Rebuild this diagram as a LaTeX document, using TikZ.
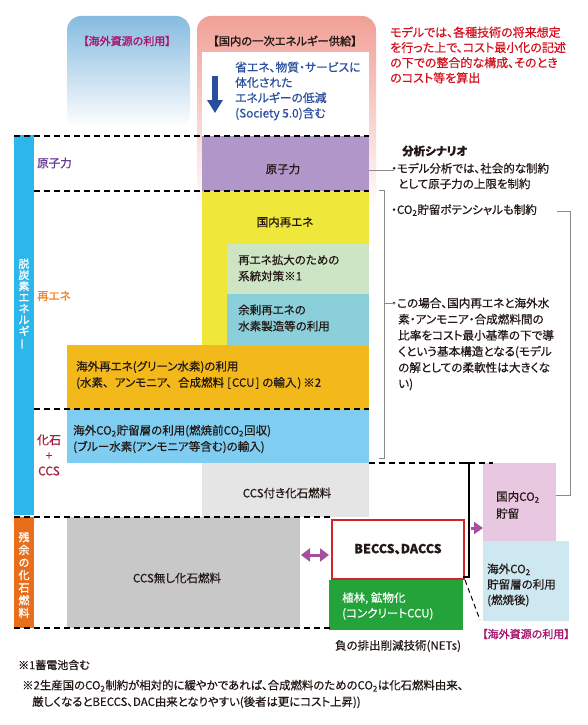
\documentclass[tikz,border=0pt]{standalone}
\usepackage{fontspec}
\setmainfont[RawFeature=+palt, FakeBold=0.5]{Noto Sans CJK JP}
\newfontfamily\medfont[RawFeature=+palt, FakeBold=1.4]{Noto Sans CJK JP}
\usetikzlibrary{arrows.meta}
\definecolor{gblue}{HTML}{86BBE0}
\definecolor{gpink}{HTML}{F1A097}
\definecolor{barblue}{HTML}{2CB6EA}
\definecolor{barorange}{HTML}{E86E1C}
\definecolor{cpurple}{HTML}{B196C9}
\definecolor{cyellow}{HTML}{EFE73A}
\definecolor{clgreen}{HTML}{CDE5C5}
\definecolor{cteal}{HTML}{8ACFD9}
\definecolor{corange}{HTML}{F3B91B}
\definecolor{clblue}{HTML}{7FCDF1}
\definecolor{clgray}{HTML}{E5E5E5}
\definecolor{cgray}{HTML}{C8C8C9}
\definecolor{cpink}{HTML}{E8C7E1}
\definecolor{ccyan}{HTML}{CDE8F1}
\definecolor{cgreen}{HTML}{23A33A}
\definecolor{cred}{HTML}{D3242A}
\definecolor{tmag}{HTML}{A8176E}
\definecolor{tred}{HTML}{D4121F}
\definecolor{tpurple}{HTML}{6A3D96}
\definecolor{torange}{HTML}{F0862A}
\definecolor{tdred}{HTML}{A8203C}
\definecolor{tblue}{HTML}{2A4E9E}
\definecolor{amag}{HTML}{A5509F}
\definecolor{cline}{HTML}{8A8A8A}
\definecolor{ttext}{HTML}{231815}
\tikzset{
  box/.style={draw=none, inner sep=0pt, anchor=north west, text=ttext},
  t/.style={inner sep=0pt, align=left, text=ttext, font=\fontsize{11.5}{16.2}\selectfont},
  tc/.style={inner sep=0pt, align=center, text=ttext, font=\fontsize{11.5}{16.2}\selectfont},
  dline/.style={line width=1.1pt, dash pattern=on 6pt off 4pt},
  conn/.style={draw=cline, line width=0.9pt},
  vtext/.style={inner sep=0pt, align=center, text=white}
}
\newcommand{\COt}{CO\textsubscript{2}}
\begin{document}
\begin{tikzpicture}[x=1pt,y=-1pt]
\useasboundingbox (0,0) rectangle (587,725);
\fill[white] (0,0) rectangle (587,725);

% gradient headers
\shade[top color=gblue, bottom color=white, rounded corners=14pt] (67,16) rectangle (190,128);
\shade[top color=gpink, bottom color=white, rounded corners=14pt] (197,16) rectangle (376,210);
\node[box, fill=white, minimum width=167, minimum height=84] (wbox) at (202,52) {};
\node[tc, text=tmag, font=\medfont\fontsize{11}{14}\selectfont] (ovt) at (127,41) {【海外資源の利用】};
\node[tc, font=\medfont\fontsize{11.3}{14}\selectfont] (domt) at (285,41) {【国内の一次エネルギー供給】};
\coordinate (arT) at (215,76);
\coordinate (arB) at (215,113);
\draw[tblue, line width=6pt, -{Triangle[width=15pt,length=13pt]}] (arT) -- (arB);
\node[t, text=tblue, anchor=west, font=\fontsize{11.8}{15.3}\selectfont] (savetxt) at (235,91) {省エネ、物質・サービスに\\体化された\\エネルギーの低減\\(Society 5.0)含む};

% red note
\node[t, text=tred, anchor=west, font=\fontsize{12}{15.2}\selectfont] (rednote) at (390,55) {モデルでは、各種技術の将来想定\\を行った上で、コスト最小化の記述\\の下での整合的な構成、そのとき\\のコスト等を算出};

% left bars
\node[box, fill=barblue, minimum width=20, minimum height=380] (bbar) at (14,135) {};
\node[box, fill=barorange, minimum width=20, minimum height=111] (obar) at (14,517) {};
\node[vtext, font=\medfont\fontsize{11}{11.2}\selectfont] (vt1) at (24,304) {脱\\炭\\素\\エ\\ネ\\ル\\ギ\\\rotatebox[origin=c]{90}{ー}};
\node[vtext, font=\medfont\fontsize{11}{12.6}\selectfont] (vt2) at (24,575) {残\\余\\の\\化\\石\\燃\\料};

% left labels
\node[t, text=tpurple, anchor=west, font=\medfont\fontsize{11.5}{14}\selectfont] (lnuc) at (37,163) {原子力};
\node[t, text=torange, anchor=west, font=\medfont\fontsize{11.5}{14}\selectfont] (lren) at (37,296) {再エネ};
\node[tc, text=tdred, font=\fontsize{12}{15.5}\selectfont] (lfos) at (49,455) {化石\\+\\CCS};

% main boxes
\node[box, fill=cpurple, minimum width=167, minimum height=55] (nuc) at (202,136) {};
\node[tc] (nuct) at (283,169) {原子力};
\node[box, fill=cyellow, minimum width=167, minimum height=154] (ren) at (202,191) {};
\node[tc] (rent) at (285,222) {国内再エネ};
\node[box, fill=clgreen, minimum width=142, minimum height=50] (grid) at (227,244) {};
\node[t, anchor=west] (gridt) at (238,268) {再エネ拡大のための\\系統対策※1};
\node[box, fill=cteal, minimum width=142, minimum height=51] (h2) at (227,294) {};
\node[t, anchor=west] (h2t) at (238,318) {余剰再エネの\\水素製造等の利用};
\node[box, fill=corange, minimum width=302, minimum height=64] (green) at (67,345) {};
\node[t, anchor=west] (greent) at (76,375) {海外再エネ(グリーン水素)の利用\\(水素、\hspace{6pt}アンモニア、\hspace{6pt}合成燃料\hspace{3pt}[\hspace{1pt}CCU\hspace{1pt}]\hspace{3pt}の輸入\hspace{1pt})\hspace{2pt}※2};
\node[box, fill=clblue, minimum width=302, minimum height=54] (blue) at (67,409) {};
\node[t, anchor=west] (bluet) at (73,439) {海外\COt 貯留層の利用(燃焼前\COt 回収)\\(ブルー水素(アンモニア等含む)の輸入)};
\node[box, fill=clgray, minimum width=167, minimum height=54] (ccs) at (202,463) {};
\node[tc] (ccst) at (287,493) {CCS付き化石燃料};
\node[box, fill=cgray, minimum width=233, minimum height=111] (noccs) at (67,517) {};
\node[tc] (noccst) at (177,578) {CCS無し化石燃料};

% NETs
\node[box, fill=white, draw=cred, line width=2.5pt, minimum width=132, minimum height=59] (becc) at (330.5,518.5) {};
\node[tc, font=\bfseries\fontsize{12.5}{15}\selectfont] (becct) at (398,549) {BECCS、DACCS};
\node[box, fill=cgreen, minimum width=134, minimum height=50] (fore) at (329,580) {};
\node[t, text=white, anchor=west, font=\fontsize{11.5}{15.5}\selectfont] (foret) at (342,606) {植林, 鉱物化\\(コンクリートCCU)};
\node[box, fill=cpink, minimum width=73, minimum height=78] (dstor) at (483,463) {};
\node[t, anchor=west, font=\fontsize{11.5}{17}\selectfont] (dstort) at (496,505) {国内\COt\\貯留};
\node[box, fill=ccyan, minimum width=86, minimum height=80] (ostor) at (483,541) {};
\node[t, anchor=west, font=\fontsize{11.5}{15.5}\selectfont] (ostort) at (487,585) {海外\COt\\貯留層の利用\\(燃焼後)};
\node[tc, text=tmag, font=\medfont\fontsize{11}{14}\selectfont] (ovt2) at (526,634) {【海外資源の利用】};
\node[tc] (netst) at (398,646) {負の排出削減技術(NETs)};

% dashed lines
\coordinate (d1a) at (14,136);  \coordinate (d1b) at (369,136);
\coordinate (d2a) at (34,191);  \coordinate (d2b) at (369,191);
\coordinate (d3a) at (34,409);  \coordinate (d3b) at (369,409);
\coordinate (d4a) at (369,463); \coordinate (d4b) at (493,463);
\coordinate (d5a) at (14,517);  \coordinate (d5b) at (330,517);
\coordinate (d6a) at (14,628);  \coordinate (d6b) at (330,628);
\draw[dline] (d1a) -- (d1b);
\draw[dline] (d2a) -- (d2b);
\draw[dline] (d3a) -- (d3b);
\draw[dline] (d4a) -- (d4b);
\draw[dline] (d5a) -- (d5b);
\draw[dline] (d6a) -- (d6b);
\coordinate (diagE) at (480,620);
\draw[line width=1pt, dash pattern=on 5pt off 3.5pt] (becc.south east) -- (diagE);

% bracket and arrows
\coordinate (bk1) at (464,463); \coordinate (bk2) at (469,463);
\coordinate (bk3) at (469,577); \coordinate (bk4) at (463,577);
\draw[line width=2pt] (bk1) -- (bk2) -- (bk3) -- (bk4);
\coordinate (ar1) at (471,528);
\draw[amag, line width=3pt, -{Triangle[width=12pt,length=9pt]}] (ar1) -- (ar1 -| dstor.west);
\coordinate (da) at (301,555); \coordinate (db) at (329,555);
\draw[amag, line width=3pt, {Triangle[width=13pt,length=9pt]}-{Triangle[width=13pt,length=9pt]}] (da) -- (db);

% analysis scenario
\node[t, anchor=west, font=\bfseries\fontsize{11.5}{14}\selectfont] (scen) at (402,151) {分析シナリオ};
\node[t, anchor=west, font=\fontsize{11.5}{15.5}\selectfont] (b1) at (398,176) {\hspace*{-7pt}・モデル分析では、社会的な制約\\として原子力の上限を制約};
\node[t, anchor=west] (b2) at (398,210) {\hspace*{-7pt}・\COt 貯留ポテンシャルも制約};
\node[t, anchor=west, font=\fontsize{11.6}{16.1}\selectfont] (b3) at (398,344) {\hspace*{-7pt}・この場合、国内再エネと海外水\\素・アンモニア・合成燃料間の\\比率をコスト最小基準の下で導\\くという基本構造となる(モデル\\の解としての柔軟性は大きくな\\い)};

% connectors
\coordinate (c1a) at (369,170); \coordinate (c1b) at (394,170);
\draw[conn] (c1a) -- (c1b);
\coordinate (k1) at (379,190); \coordinate (k2) at (384,190);
\coordinate (k3) at (384,458); \coordinate (k4) at (379,458);
\coordinate (km) at (384,303); \coordinate (kn) at (395,303);
\draw[conn] (k1) -- (k2) -- (k3) -- (k4);
\draw[conn] (km) -- (kn);
\coordinate (r1) at (557,211); \coordinate (r2) at (570,211);
\coordinate (r3) at (570,495);
\draw[conn] (r1) -- (r2) -- (r3) -- (r3 -| dstor.east);

% footnotes
\node[t, anchor=west, font=\fontsize{11}{16}\selectfont] (fn1) at (18,665) {※1蓄電池含む};
\node[t, anchor=west, font=\fontsize{11.4}{16.5}\selectfont] (fn2) at (22,694) {※2生産国の\COt 制約が相対的に緩やかであれば、合成燃料のための\COt は化石燃料由来、\\\hspace*{10pt}厳しくなるとBECCS、DAC由来となりやすい(後者は更にコスト上昇))};
\end{tikzpicture}
\end{document}
